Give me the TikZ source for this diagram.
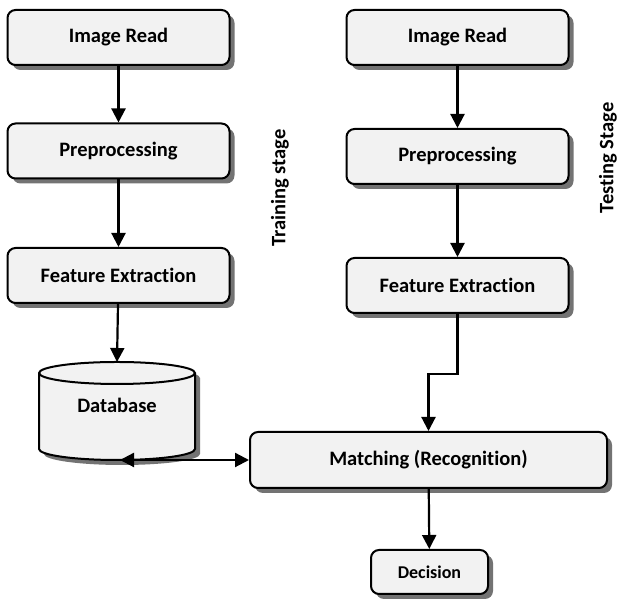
\documentclass[tikz,border=0pt]{standalone}
\usepackage{fontspec}
\setmainfont[RawFeature={-liga;-dlig;-calt;-clig}]{Carlito}
\usetikzlibrary{shadows,arrows.meta}

\begin{document}
\begin{tikzpicture}
[x=1pt,y=1pt,%
  boxshade/.style={draw,line width=2pt,fill=black!5,%
    drop shadow={shadow xshift=5pt,shadow yshift=-5pt,fill=black!55,opacity=1}},%
  stagebox/.style={boxshade,rounded corners=8pt,%
    minimum width=222pt,minimum height=55pt,inner sep=2pt,%
    font=\bfseries\fontsize{20.5}{24}\selectfont},%
  stagelabel/.style={rotate=90,font=\bfseries\fontsize{20.5}{24}\selectfont},%
  flow/.style={line width=2.2pt,-{Triangle[length=14pt,width=14pt]}}]
\useasboundingbox (0,0) rectangle (619,601);
\node[stagebox] (readA) at (118.5,563.5) {Image Read};
\node[stagebox] (prepA) at (118.5,450) {Preprocessing};
\node[stagebox] (featA) at (118.5,325.5) {Feature Extraction};
\path[boxshade] (39,228) -- (39,152) arc[start angle=180,end angle=360,x radius=78,y radius=11]
  -- (195,228) arc[start angle=0,end angle=180,x radius=78,y radius=11] -- cycle;
\draw[line width=2pt] (39,228) arc[start angle=180,end angle=360,x radius=78,y radius=11];
\node[font=\bfseries\fontsize{20.5}{24}\selectfont] (db) at (117,196) {Database};
\coordinate (dbtop) at (117,239);
\coordinate (dbbot) at (120,141);
\node[stagebox] (readB) at (457.5,563.5) {Image Read};
\node[stagebox] (prepB) at (457.5,444.5) {Preprocessing};
\node[stagebox] (featB) at (457.5,315.5) {Feature Extraction};
\node[stagebox,minimum width=357pt,minimum height=56pt] (match) at (428.5,141) {Matching (Recognition)};
\node[stagebox,minimum width=117pt,minimum height=44pt,%
  font=\bfseries\fontsize{18}{22}\selectfont] (dec) at (429.5,29) {Decision};
\node[stagelabel] (train) at (280,413) {Training stage};
\node[stagelabel] (test) at (608,443) {Testing Stage};
\draw[flow] (readA) -- (prepA);
\draw[flow] (prepA) -- (featA);
\draw[flow] (featA) -- (dbtop);
\draw[flow] (readB) -- (prepB);
\draw[flow] (prepB) -- (featB);
\draw[flow] (featB.south) -- ++(0,-60) -| (match.north);
\draw[flow,{Triangle[length=14pt,width=14pt]}-{Triangle[length=14pt,width=14pt]}] (dbbot) -- (match.west);
\draw[flow] (match) -- (dec);
\end{tikzpicture}
\end{document}
